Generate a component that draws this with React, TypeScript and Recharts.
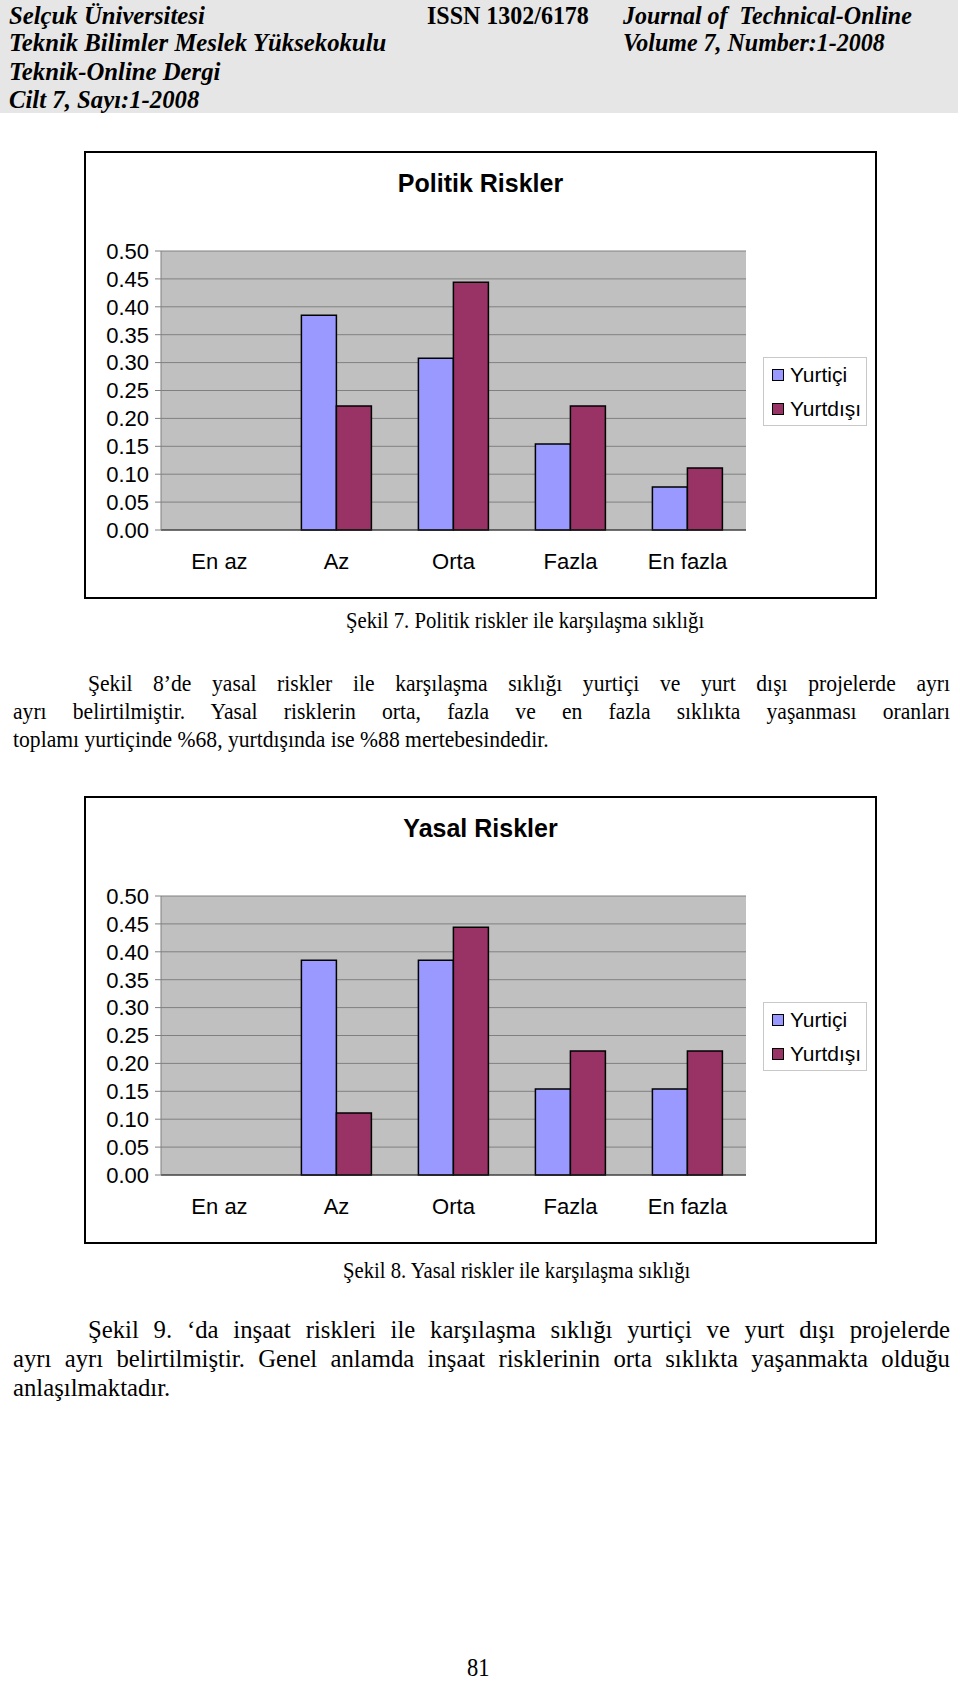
import React from "react";
import { BarChart, Bar, XAxis, YAxis, CartesianGrid, Legend } from "recharts";

const categories = ["En az", "Az", "Orta", "Fazla", "En fazla"];
const seriesNames = ["Yurtiçi", "Yurtdışı"];
const seriesColors = ["#9999ff", "#993366"];

const politikYurtici = [0, 0.385, 0.308, 0.154, 0.077];
const politikYurtdisi = [0, 0.222, 0.444, 0.222, 0.111];
const yasalYurtici = [0, 0.385, 0.385, 0.154, 0.154];
const yasalYurtdisi = [0, 0.111, 0.444, 0.222, 0.222];

const yTicks = [0, 0.05, 0.1, 0.15, 0.2, 0.25, 0.3, 0.35, 0.4, 0.45, 0.5];
const boundaryTicks = [0, 1, 2, 3, 4, 5];

const SANS = '"Liberation Sans", Arial, sans-serif';
const SERIF = '"Liberation Serif", "Times New Roman", serif';

function buildRows(a: number[], b: number[]) {
  return categories.map((c, i) => ({ name: c, yurtici: a[i], yurtdisi: b[i] }));
}

function LegendBox(props: any) {
  const items = [...(props.payload || [])].sort(
    (p: any, q: any) => seriesNames.indexOf(p.value) - seriesNames.indexOf(q.value)
  );
  return (
    <div
      style={{
        border: "1px solid #c8c8c8",
        background: "#fff",
        width: 104,
        height: 69,
        boxSizing: "border-box",
        padding: "0 0 0 8px",
        fontFamily: SANS,
        fontSize: 21,
        color: "#000",
      }}
    >
      {items.map((it: any) => (
        <div key={it.value} style={{ display: "flex", alignItems: "center", height: 34 }}>
          <span
            style={{
              display: "inline-block",
              width: 10,
              height: 10,
              background: it.color,
              border: "1px solid #000",
              marginRight: 6,
            }}
          />
          {it.value}
        </div>
      ))}
    </div>
  );
}

function RiskChart({ title, top, a, b }: { title: string; top: number; a: number[]; b: number[] }) {
  const rows = buildRows(a, b);
  return (
    <div
      style={{
        position: "absolute",
        left: 84,
        top,
        width: 793,
        height: 448,
        border: "2px solid #000",
        boxSizing: "border-box",
        background: "#fff",
      }}
    >
      <div
        style={{
          position: "absolute",
          left: 0,
          right: 0,
          top: 16,
          lineHeight: "28px",
          textAlign: "center",
          fontFamily: SANS,
          fontWeight: "bold",
          fontSize: 25,
        }}
      >
        {title}
      </div>
      <BarChart
        width={789}
        height={444}
        data={rows}
        margin={{ top: 98, right: 129, bottom: 0, left: 0 }}
        barCategoryGap="20%"
        barGap={0}
      >
        <CartesianGrid vertical={false} stroke="#808080" fill="#c0c0c0" fillOpacity={1} />
        <XAxis
          xAxisId="bounds"
          type="number"
          domain={[0, 5]}
          ticks={boundaryTicks}
          allowDataOverflow
          height={0}
          axisLine={false}
          tickSize={6}
          tickLine={{ stroke: "#808080" }}
          tickFormatter={() => ""}
        />
        <XAxis
          dataKey="name"
          height={67}
          axisLine={{ stroke: "#222" }}
          tickLine={false}
          tickMargin={17}
          tick={{ fill: "#000", fontSize: 22, fontFamily: SANS }}
          interval={0}
        />
        <YAxis
          width={75}
          domain={[0, 0.5]}
          ticks={yTicks}
          interval={0}
          axisLine={{ stroke: "#808080" }}
          tickLine={{ stroke: "#808080" }}
          tickSize={6}
          tickMargin={6}
          tick={{ fill: "#000", fontSize: 22, fontFamily: SANS }}
          tickFormatter={(v: number) => v.toFixed(2)}
        />
        <Legend
          layout="vertical"
          align="center"
          verticalAlign="middle"
          wrapperStyle={{ left: 677, top: 204, width: 104 }}
          content={<LegendBox />}
        />
        <Bar dataKey="yurtici" name={seriesNames[0]} fill={seriesColors[0]} stroke="#000" strokeWidth={1.5} isAnimationActive={false} />
        <Bar dataKey="yurtdisi" name={seriesNames[1]} fill={seriesColors[1]} stroke="#000" strokeWidth={1.5} isAnimationActive={false} />
      </BarChart>
    </div>
  );
}

// one line of page text; sx squeezes the glyphs horizontally like the scan
function Line({ text, left, cy, width, justify, size = 21, sx = 1, style }: any) {
  return (
    <div
      style={{
        position: "absolute",
        left,
        top: cy - 15,
        width: width ? width / sx : undefined,
        lineHeight: "30px",
        whiteSpace: "nowrap",
        textAlign: justify ? "justify" : "left",
        textAlignLast: justify ? "justify" : "auto",
        fontFamily: SERIF,
        fontSize: size,
        color: "#000",
        transform: `scaleX(${sx})`,
        transformOrigin: "0 50%",
        ...style,
      }}
    >
      {text}
    </div>
  );
}

const head = { fontWeight: "bold", fontStyle: "italic" };

export default function App() {
  return (
    <div style={{ position: "absolute", left: 0, top: 0, width: 960, height: 1688, background: "#fff", overflow: "hidden" }}>
      <div style={{ position: "absolute", left: 0, top: 0, width: 958, height: 113, background: "#e6e6e6" }} />
      <Line text="Selçuk Üniversitesi" left={9} cy={16} size={25.5} sx={0.97} style={head} />
      <Line text="Teknik Bilimler Meslek Yüksekokulu" left={9} cy={43} size={25.5} sx={0.97} style={head} />
      <Line text="Teknik-Online Dergi" left={9} cy={72} size={25.5} sx={0.97} style={head} />
      <Line text="Cilt 7, Sayı:1-2008" left={9} cy={100} size={25.5} sx={0.97} style={head} />
      <Line text="ISSN 1302/6178" left={427} cy={16} size={25.5} sx={0.94} style={{ fontWeight: "bold" }} />
      <Line text={"Journal of\u00a0 Technical-Online"} left={623} cy={16} size={25.5} sx={0.94} style={head} />
      <Line text="Volume 7, Number:1-2008" left={623} cy={43} size={25.5} sx={0.94} style={head} />

      <RiskChart title="Politik Riskler" top={151} a={politikYurtici} b={politikYurtdisi} />
      <Line text="Şekil 7. Politik riskler ile karşılaşma sıklığı" left={346} cy={621} size={23} sx={0.9} />

      <Line text="Şekil 8’de yasal riskler ile karşılaşma sıklığı yurtiçi ve yurt dışı projelerde ayrı" left={88} cy={684} width={862} justify size={23} sx={0.94} />
      <Line text="ayrı belirtilmiştir. Yasal risklerin orta, fazla ve en fazla sıklıkta yaşanması oranları" left={13} cy={712} width={937} justify size={23} sx={0.94} />
      <Line text="toplamı yurtiçinde %68, yurtdışında ise %88 mertebesindedir." left={13} cy={740} size={23} sx={0.94} />

      <RiskChart title="Yasal Riskler" top={796} a={yasalYurtici} b={yasalYurtdisi} />
      <Line text="Şekil 8. Yasal riskler ile karşılaşma sıklığı" left={343} cy={1271} size={23} sx={0.9} />

      <Line text="Şekil 9. ‘da inşaat riskleri ile karşılaşma sıklığı yurtiçi ve yurt dışı projelerde" left={88} cy={1330} width={862} justify size={25.5} sx={0.97} />
      <Line text="ayrı ayrı belirtilmiştir. Genel anlamda inşaat risklerinin orta sıklıkta yaşanmakta olduğu" left={13} cy={1359} width={937} justify size={25.5} sx={0.97} />
      <Line text="anlaşılmaktadır." left={13} cy={1388} size={25.5} sx={0.97} />

      <Line text="81" left={467} cy={1668} size={25} sx={0.9} />
    </div>
  );
}
